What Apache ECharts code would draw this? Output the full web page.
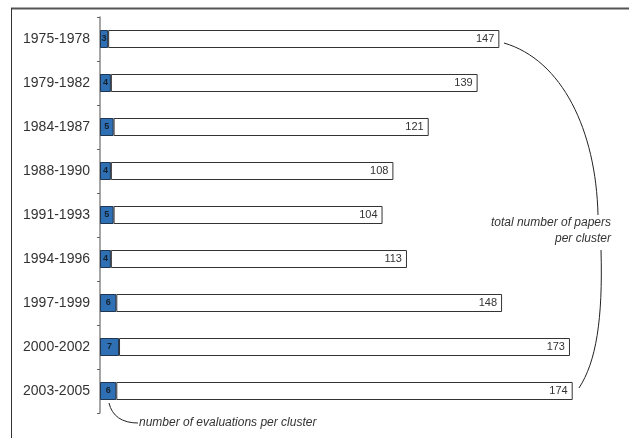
<!DOCTYPE html>
<html>
<head>
<meta charset="utf-8">
<script src="https://cdn.jsdelivr.net/npm/echarts@6/dist/echarts.min.js"></script>
<style>html,body{margin:0;padding:0;background:#fff}#c{width:629px;height:438px}</style>
</head>
<body>
<div id="c"></div>
<script>
var categories = ['1975-1978','1979-1982','1984-1987','1988-1990','1991-1993','1994-1996','1997-1999','2000-2002','2003-2005'];
var evaluations = [3,4,5,4,5,4,6,7,6];
var totalPapers = [147,139,121,108,104,113,148,173,174];
var remainder = totalPapers.map(function(t,i){return t - evaluations[i];});

var chart = echarts.init(document.getElementById('c'), null, {renderer:'canvas'});
chart.setOption({
  animation:false,
  grid:{left:100,right:40,top:17,bottom:25},
  xAxis:{type:'value',min:0,max:180,show:false},
  yAxis:{type:'category',data:categories,inverse:true,
    axisLine:{lineStyle:{color:'#888',width:1.5}},
    axisTick:{show:true,length:3,lineStyle:{color:'#666'}},
    axisLabel:{fontFamily:'Liberation Sans, Arial',fontSize:14,color:'#333',margin:10}
  },
  series:[
    {type:'bar',stack:'a',data:evaluations,barWidth:18,
     itemStyle:{color:'#2e70b3',borderColor:'#1f3550',borderWidth:1},
     label:{show:true,position:'inside',fontFamily:'Liberation Sans, Arial',fontSize:9,fontWeight:'bold',color:'#14202e'}},
    {type:'bar',stack:'a',data:remainder,barWidth:18,
     itemStyle:{color:'#fff',borderColor:'#333',borderWidth:1},
     label:{show:true,position:'insideRight',distance:5,fontFamily:'Liberation Sans, Arial',fontSize:11,color:'#333',
       formatter:function(p){return totalPapers[p.dataIndex];}}}
  ],
  graphic:[
    {type:'line',shape:{x1:11,y1:8.5,x2:629,y2:8.5},style:{stroke:'#555',lineWidth:2}},
    {type:'line',shape:{x1:11.5,y1:8,x2:11.5,y2:438},style:{stroke:'#333',lineWidth:1}},
    {type:'bezierCurve',shape:{x1:504,y1:43,cpx1:562,cpy1:60,cpx2:596,cpy2:130,x2:598,y2:215},style:{stroke:'#222',lineWidth:1,fill:null}},
    {type:'bezierCurve',shape:{x1:601,y1:250,cpx1:603,cpy1:320,cpx2:596,cpy2:362,x2:579,y2:388},style:{stroke:'#222',lineWidth:1,fill:null}},
    {type:'bezierCurve',shape:{x1:109,y1:403,cpx1:112,cpy1:416,cpx2:122,cpy2:423,x2:138,y2:423},style:{stroke:'#222',lineWidth:1,fill:null}},
    {type:'text',x:611,y:223,style:{text:'total number of papers',align:'right',verticalAlign:'middle',font:'italic 12px Liberation Sans, Arial',fill:'#333'}},
    {type:'text',x:611,y:239,style:{text:'per cluster',align:'right',verticalAlign:'middle',font:'italic 12px Liberation Sans, Arial',fill:'#333'}},
    {type:'text',x:139,y:423,style:{text:'number of evaluations per cluster',verticalAlign:'middle',font:'italic 12px Liberation Sans, Arial',fill:'#333'}}
  ]
});
</script>
</body>
</html>
